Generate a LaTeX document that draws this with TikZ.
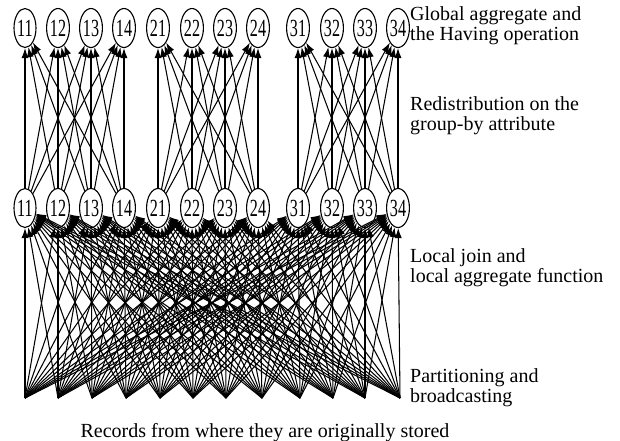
\documentclass[tikz,border=0pt]{standalone}
\usepackage{fontspec}
\setmainfont{Liberation Serif}
\usepackage{graphicx}
\usetikzlibrary{shapes.geometric,arrows.meta}
% processor label: tall, narrow digits
\newcommand\pnum[1]{\scalebox{0.95}[1.45]{\fontsize{17}{17}\selectfont #1}}
\begin{document}
\begin{tikzpicture}[x=1pt,y=-1pt,
  proc/.style={draw,ellipse,minimum width=21pt,minimum height=39pt,inner sep=0pt,line width=1.1pt},
  flow/.style={line width=1.05pt,-{Latex[length=10pt,width=7pt]}},
  lbl/.style={anchor=base west,inner sep=0pt,font=\fontsize{20}{20}\selectfont}]
\useasboundingbox (0,0) rectangle (620,440);
% processors: global aggregation row (t) and local join row (m)
\foreach \g/\j/\x in {1/1/25,1/2/58,1/3/91,1/4/124,2/1/158,2/2/192,2/3/225,2/4/258,3/1/298,3/2/332,3/3/365,3/4/398}{
  \node[proc] (t\g\j) at (\x,28) {\pnum{\g\j}};
  \node[proc] (m\g\j) at (\x,208) {\pnum{\g\j}};
}
% places where the records are originally stored
\foreach \i/\x in {1/25,2/58,3/92,4/126,5/160,6/193,7/226,8/262,9/300,10/333,11/365,12/400}{
  \coordinate (s\i) at (\x,398);
}
% redistribution on the group-by attribute, within each cluster
\foreach \g in {1,2,3}{
  \foreach \j in {1,...,4}{
    \foreach \k in {1,...,4}{
      \draw[flow] (m\g\j) -- (t\g\k);
    }
  }
}
% partitioning and broadcasting to every processor
\foreach \i in {1,...,12}{
  \foreach \g in {1,2,3}{
    \foreach \j in {1,...,4}{
      \draw[flow] (s\i) -- (m\g\j);
    }
  }
}
% phase descriptions
\node[lbl] (ga1) at (410,20) {Global aggregate and};
\node[lbl] (ga2) at (410,40) {the Having operation};
\node[lbl] (rd1) at (410,110) {Redistribution on the};
\node[lbl] (rd2) at (410,130) {group-by attribute};
\node[lbl] (lj1) at (410,262) {Local join and};
\node[lbl] (lj2) at (410,282) {local aggregate function};
\node[lbl] (pb1) at (410,382) {Partitioning and};
\node[lbl] (pb2) at (410,402) {broadcasting};
\node[lbl,anchor=base] (rec) at (265,437) {Records from where they are originally stored};
\end{tikzpicture}
\end{document}
